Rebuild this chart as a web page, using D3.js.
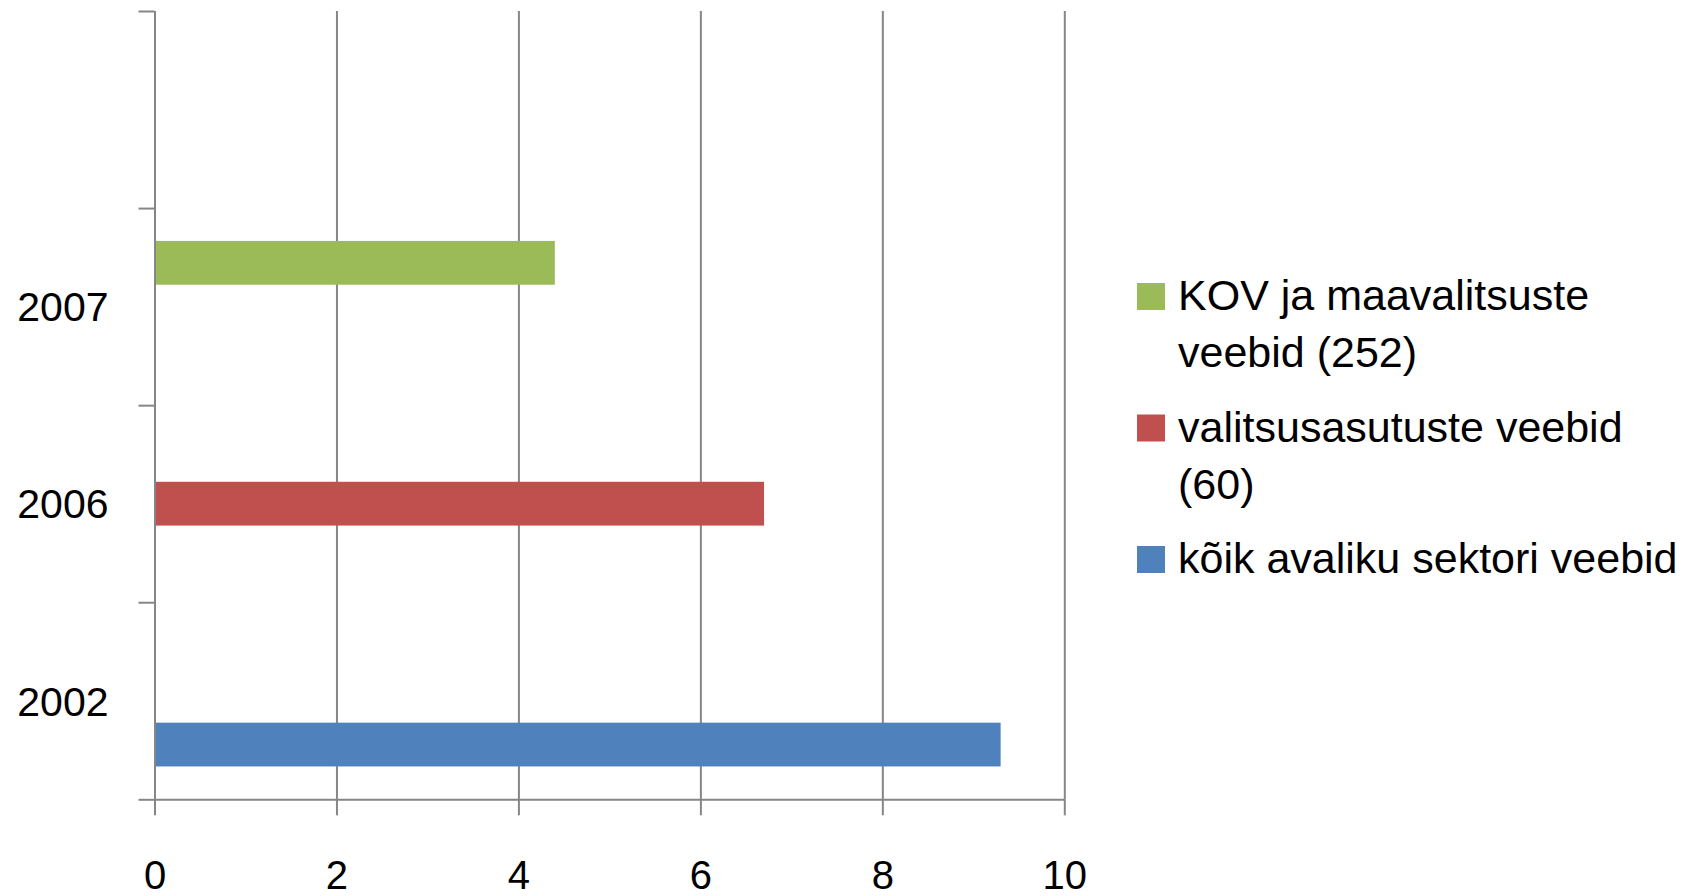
<!DOCTYPE html>
<html>
<head>
<meta charset="utf-8">
<script src="https://cdn.jsdelivr.net/npm/d3@7"></script>
<style>
  body { margin: 0; background: #fff; }
  svg { display: block; font-family: "Liberation Sans", Arial, sans-serif; }
</style>
</head>
<body>
<div id="chart"></div>
<script>
// categories bottom -> top (Excel order), last one is the empty slot on top
var categories = ["2002", "2006", "2007", ""];

var seriesNames = ["kõik avaliku sektori veebid", "valitsusasutuste veebid (60)", "KOV ja maavalitsuste veebid (252)"];
var seriesColors = ["#4F81BD", "#C0504D", "#9BBB59"];

var koikValues = [9.3, null, null, null];
var valitsusValues = [null, 6.7, null, null];
var kovValues = [null, null, 4.4, null];

var xTicks = [0, 2, 4, 6, 8, 10];

// legend lines as they wrap in the original (top item first)
var legendLines = [
  ["KOV ja maavalitsuste", "veebid (252)"],
  ["valitsusasutuste veebid", "(60)"],
  ["kõik avaliku sektori veebid"]
];

var seriesValues = [koikValues, valitsusValues, kovValues];

var W = 1699, H = 896;
var margin = {top: 11, left: 154.5, right: W - 1064.3, bottom: H - 799.3};
var width = W - margin.left - margin.right,
    height = H - margin.top - margin.bottom;

var axisColor = "#868686";

var svg = d3.select("#chart").append("svg")
    .attr("width", W)
    .attr("height", H);

var g = svg.append("g")
    .attr("transform", "translate(" + margin.left + "," + margin.top + ")");

var x = d3.scaleLinear().domain([0, 10]).range([0, width]);

var y = d3.scaleBand()
    .domain(categories.slice().reverse())
    .range([0, height])
    .paddingInner(0)
    .paddingOuter(0);

// slots inside a category: last series at the top
var ySlot = d3.scaleBand()
    .domain(d3.range(seriesNames.length).reverse())
    .range([0, y.bandwidth()])
    .paddingInner(0)
    .paddingOuter(0.75);

// gridlines
g.append("g")
    .attr("class", "grid")
    .call(d3.axisBottom(x).tickValues(xTicks).tickSize(height).tickFormat(""))
    .call(s => s.select(".domain").remove())
    .call(s => s.selectAll("line").attr("stroke", axisColor).attr("stroke-width", 2));

// bars
var bars = [];
seriesValues.forEach(function (vals, si) {
  vals.forEach(function (v, ci) {
    if (v != null) bars.push({series: si, cat: categories[ci], value: v});
  });
});

g.selectAll("rect.bar")
  .data(bars)
  .enter().append("rect")
    .attr("class", "bar")
    .attr("x", x(0))
    .attr("y", d => y(d.cat) + ySlot(d.series))
    .attr("width", d => x(d.value) - x(0))
    .attr("height", ySlot.bandwidth())
    .attr("fill", d => seriesColors[d.series]);

// x axis
g.append("g")
    .attr("transform", "translate(0," + height + ")")
    .call(d3.axisBottom(x).tickValues(xTicks).tickSize(16).tickPadding(45).tickSizeOuter(0))
    .call(s => s.select(".domain").attr("stroke", axisColor).attr("stroke-width", 2))
    .call(s => s.selectAll(".tick line").attr("stroke", axisColor).attr("stroke-width", 2))
    .call(s => s.selectAll(".tick text").attr("fill", "#000").style("font-size", "40px")
                 .style("font-family", "'Liberation Sans', Arial, sans-serif"));

// y axis: tick marks on category boundaries
var yEdges = d3.scaleLinear().domain([0, categories.length]).range([height, 0]);
g.append("g")
    .call(d3.axisLeft(yEdges).ticks(categories.length).tickSize(16).tickFormat("").tickSizeOuter(0))
    .call(s => s.select(".domain").attr("stroke", axisColor).attr("stroke-width", 2))
    .call(s => s.selectAll(".tick line").attr("stroke", axisColor).attr("stroke-width", 2));

// y labels at category centres
g.append("g")
    .call(d3.axisLeft(y).tickSize(0).tickPadding(46))
    .call(s => s.select(".domain").remove())
    .call(s => s.selectAll(".tick text").attr("fill", "#000").attr("dy", "0.36em")
                 .style("font-size", "41px")
                 .style("font-family", "'Liberation Sans', Arial, sans-serif"));

// legend (reverse order, as in the original)
var legend = svg.append("g").attr("transform", "translate(1137,310)");
var lineH = 57, itemGap = 17.5, yy = 0;
legendLines.forEach(function (lines, i) {
  var si = seriesNames.length - 1 - i;
  var item = legend.append("g").attr("transform", "translate(0," + yy + ")");
  item.append("rect")
      .attr("x", 0).attr("y", -27)
      .attr("width", 28).attr("height", 27)
      .attr("fill", seriesColors[si]);
  var t = item.append("text")
      .attr("x", 41)
      .attr("y", 0)
      .style("font-size", "43px")
      .attr("fill", "#000");
  lines.forEach(function (l, j) {
    t.append("tspan").attr("x", 41).attr("y", j * lineH).text(l);
  });
  yy += lines.length * lineH + itemGap;
});
</script>
</body>
</html>
